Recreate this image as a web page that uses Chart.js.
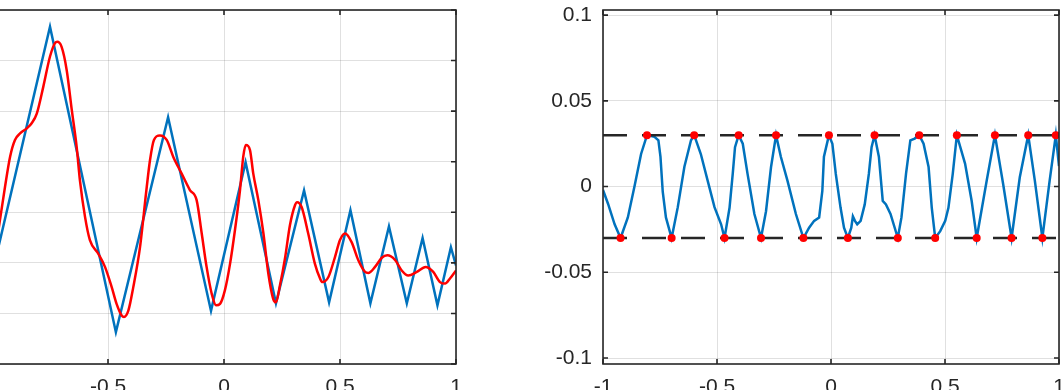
<!DOCTYPE html>
<html>
<head>
<meta charset="utf-8">
<script src="https://cdn.jsdelivr.net/npm/chart.js@4.4.0/dist/chart.umd.min.js"></script>
<style>
  html, body { margin: 0; padding: 0; background: #fff; overflow: hidden; width: 1063px; height: 390px; }
  canvas { position: absolute; top: 0; }
  #c1 { left: -100px; }
  #c2 { left: 520px; }
</style>
</head>
<body>
<canvas id="c1" width="570" height="390"></canvas>
<canvas id="c2" width="543" height="390"></canvas>
<script>
// left panel: the function (blue) and its best approximation (red)
var blueX = [-1, -0.750, -0.466, -0.241, -0.056, 0.093, 0.224, 0.345, 0.453, 0.545, 0.631, 0.711, 0.788, 0.856, 0.920, 0.978, 1];
var blueY = [0.177, 0.667, 0.063, 0.488, 0.105, 0.399, 0.120, 0.343, 0.122, 0.304, 0.120, 0.272, 0.120, 0.249, 0.116, 0.231, 0.195];

var redX = [-1.000, -0.966, -0.944, -0.922, -0.901, -0.879, -0.850, -0.829, -0.807, -0.779,
  -0.750, -0.728, -0.719, -0.700, -0.678, -0.656, -0.635, -0.621, -0.599, -0.578,
  -0.542, -0.513, -0.484, -0.463, -0.441, -0.431, -0.412, -0.391, -0.362, -0.333,
  -0.319, -0.302, -0.276, -0.247, -0.219, -0.183, -0.147, -0.118, -0.096, -0.075,
  -0.053, -0.034, -0.017, 0.004, 0.026, 0.047, 0.069, 0.083, 0.094, 0.112,
  0.126, 0.148, 0.170, 0.191, 0.212, 0.224, 0.241, 0.263, 0.284, 0.306,
  0.315, 0.335, 0.363, 0.392, 0.414, 0.424, 0.450, 0.478, 0.500, 0.522,
  0.550, 0.579, 0.608, 0.622, 0.651, 0.680, 0.704, 0.737, 0.766, 0.794,
  0.831, 0.869, 0.902, 0.931, 0.953, 0.974, 1.000];
var redY = [0.177, 0.284, 0.350, 0.410, 0.443, 0.456, 0.466, 0.476, 0.495, 0.548,
  0.608, 0.635, 0.637, 0.627, 0.581, 0.502, 0.429, 0.363, 0.291, 0.245,
  0.218, 0.192, 0.152, 0.119, 0.096, 0.093, 0.106, 0.152, 0.231, 0.350,
  0.403, 0.443, 0.452, 0.443, 0.410, 0.377, 0.344, 0.324, 0.258, 0.192,
  0.139, 0.116, 0.119, 0.146, 0.198, 0.264, 0.344, 0.410, 0.433, 0.423,
  0.377, 0.324, 0.258, 0.179, 0.129, 0.122, 0.155, 0.209, 0.274, 0.314,
  0.320, 0.310, 0.258, 0.198, 0.169, 0.162, 0.172, 0.211, 0.245, 0.258,
  0.241, 0.205, 0.182, 0.180, 0.192, 0.210, 0.215, 0.206, 0.185, 0.175,
  0.182, 0.192, 0.182, 0.162, 0.159, 0.169, 0.185];

// right panel: error curve, its extrema and the +-E levels
var errX = [-1.000, -0.978, -0.949, -0.923, -0.891, -0.862, -0.833, -0.807, -0.774, -0.757,
  -0.748, -0.738, -0.724, -0.699, -0.672, -0.643, -0.614, -0.600, -0.571, -0.541,
  -0.511, -0.482, -0.467, -0.445, -0.431, -0.421, -0.405, -0.387, -0.366, -0.336,
  -0.307, -0.285, -0.263, -0.241, -0.220, -0.191, -0.154, -0.121, -0.096, -0.074,
  -0.052, -0.038, -0.031, -0.009, 0.006, 0.021, 0.042, 0.057, 0.074, 0.089,
  0.096, 0.105, 0.115, 0.130, 0.148, 0.166, 0.178, 0.191, 0.210, 0.227,
  0.241, 0.261, 0.293, 0.309, 0.329, 0.348, 0.367, 0.387, 0.406, 0.428,
  0.442, 0.457, 0.479, 0.501, 0.515, 0.534, 0.552, 0.588, 0.617, 0.639,
  0.683, 0.719, 0.755, 0.792, 0.828, 0.865, 0.894, 0.927, 0.959, 0.986, 1.000];
var errY = [-0.002, -0.010, -0.022, -0.030, -0.018, 0.000, 0.019, 0.030, 0.029, 0.027,
  0.0175, -0.003, -0.018, -0.030, -0.012, 0.0116, 0.027, 0.030, 0.019, 0.0035,
  -0.012, -0.022, -0.030, -0.0124, 0.0074, 0.023, 0.030, 0.025, 0.0074, -0.016,
  -0.030, -0.0144, 0.0114, 0.030, 0.0174, 0.0035, -0.016, -0.030, -0.024, -0.020,
  -0.018, -0.0025, 0.0174, 0.030, 0.025, 0.0074, -0.0124, -0.024, -0.030, -0.024,
  -0.0174, -0.020, -0.022, -0.020, -0.0104, 0.0074, 0.023, 0.030, 0.0174, -0.0084,
  -0.0104, -0.016, -0.030, -0.018, 0.0074, 0.027, 0.028, 0.030, 0.025, 0.0114,
  -0.0124, -0.030, -0.026, -0.020, -0.0124, 0.0074, 0.030, 0.0134, -0.0084, -0.030,
  0.0035, 0.030, 0.0015, -0.030, 0.0054, 0.030, 0.0035, -0.030, 0.0035, 0.030, 0.012];

var extX = [-0.923, -0.807, -0.699, -0.600, -0.467, -0.405, -0.307, -0.241, -0.121, -0.009, 0.074,
  0.191, 0.293, 0.387, 0.457, 0.552, 0.639, 0.719, 0.792, 0.865, 0.927, 0.986];
var extY = [-0.03, 0.03, -0.03, 0.03, -0.03, 0.03, -0.03, 0.03, -0.03, 0.03, -0.03,
  0.03, -0.03, 0.03, -0.03, 0.03, -0.03, 0.03, -0.03, 0.03, -0.03, 0.03];
var levels = [0.03, -0.03];

var xTicks = [-1, -0.5, 0, 0.5, 1];
var xTickLabels = ['-1', '-0.5', '0', '0.5', '1'];
var leftYTicks = [0, 0.1, 0.2, 0.3, 0.4, 0.5, 0.6, 0.7];
var leftYTickLabels = ['0', '0.1', '0.2', '0.3', '0.4', '0.5', '0.6', '0.7'];
var rightYTicks = [-0.1, -0.05, 0, 0.05, 0.1];
var rightYTickLabels = ['-0.1', '-0.05', '0', '0.05', '0.1'];

Chart.defaults.font.family = '"Liberation Sans", Arial, sans-serif';
Chart.defaults.font.size = 21;
Chart.defaults.color = '#262626';

function pts(xs, ys) {
  return xs.map(function(x, i) { return { x: x, y: ys[i] }; });
}

function axis(min, max, ticks, labels, pad, fit) {
  return {
    type: 'linear', min: min, max: max,
    afterBuildTicks: function(s) { s.ticks = ticks.map(function(v) { return { value: v }; }); },
    afterFit: function(s) {
      fit(s);
      // labels may stick out of the plot box; no extra room for them
      s.paddingTop = 0; s.paddingBottom = 0; s.paddingLeft = 0; s.paddingRight = 0;
    },
    ticks: {
      callback: function(v, i) { return labels[i]; },
      padding: pad, autoSkip: false, maxRotation: 0
    },
    grid: { color: 'rgba(38,38,38,0.14)', lineWidth: 1, drawTicks: false },
    border: { display: false }
  };
}

// axes box with inward tick marks, like the original
var boxPlugin = {
  id: 'box',
  afterDatasetsDraw: function(chart) {
    var a = chart.chartArea, ctx = chart.ctx, sx = chart.scales.x, sy = chart.scales.y;
    ctx.save();
    ctx.strokeStyle = '#262626';
    ctx.lineWidth = 1.6;
    ctx.strokeRect(a.left, a.top, a.right - a.left, a.bottom - a.top);
    ctx.beginPath();
    sx.ticks.forEach(function(t) {
      var p = sx.getPixelForValue(t.value);
      ctx.moveTo(p, a.bottom); ctx.lineTo(p, a.bottom - 5);
      ctx.moveTo(p, a.top); ctx.lineTo(p, a.top + 5);
    });
    sy.ticks.forEach(function(t) {
      var p = sy.getPixelForValue(t.value);
      ctx.moveTo(a.left, p); ctx.lineTo(a.left + 5, p);
      ctx.moveTo(a.right, p); ctx.lineTo(a.right - 5, p);
    });
    ctx.stroke();
    ctx.restore();
  }
};

var common = {
  responsive: false,
  animation: false,
  devicePixelRatio: 1,
  plugins: { legend: { display: false }, tooltip: { enabled: false } },
  elements: { point: { radius: 0 } }
};

new Chart(document.getElementById('c1'), {
  type: 'line',
  data: {
    datasets: [
      { data: pts(redX, redY), borderColor: '#ff0000', borderWidth: 2.5, cubicInterpolationMode: 'monotone', order: 0 },
      { data: pts(blueX, blueY), borderColor: '#0072bd', borderWidth: 2.5, tension: 0, order: 1 }
    ]
  },
  options: Object.assign({}, common, {
    layout: { padding: { top: 10, right: 14, left: 0, bottom: 0 } },
    scales: {
      x: axis(-1, 1, xTicks, xTickLabels, 11, function(s) { s.height = 26; }),
      y: axis(0, 0.7, leftYTicks, leftYTickLabels, 11, function(s) { s.width = 92; })
    }
  }),
  plugins: [boxPlugin]
});

new Chart(document.getElementById('c2'), {
  type: 'line',
  data: {
    datasets: [
      { data: pts(extX, extY), showLine: false, pointRadius: 4, pointBackgroundColor: '#ff0000', pointBorderWidth: 0, order: 0 },
      { data: pts([-1, 1], [levels[0], levels[0]]), borderColor: '#262626', borderWidth: 2.5, borderDash: [24, 15], order: 1 },
      { data: pts([-1, 1], [levels[1], levels[1]]), borderColor: '#262626', borderWidth: 2.5, borderDash: [24, 15], order: 1 },
      { data: pts(errX, errY), borderColor: '#0072bd', borderWidth: 2.5, tension: 0, order: 2 }
    ]
  },
  options: Object.assign({}, common, {
    layout: { padding: { top: 10, right: 2, left: 0, bottom: 0 } },
    scales: {
      x: axis(-1, 1, xTicks, xTickLabels, 11, function(s) { s.height = 26; }),
      y: axis(-0.1035, 0.103, rightYTicks, rightYTickLabels, 11, function(s) { s.width = 83; })
    }
  }),
  plugins: [boxPlugin]
});
</script>
</body>
</html>
